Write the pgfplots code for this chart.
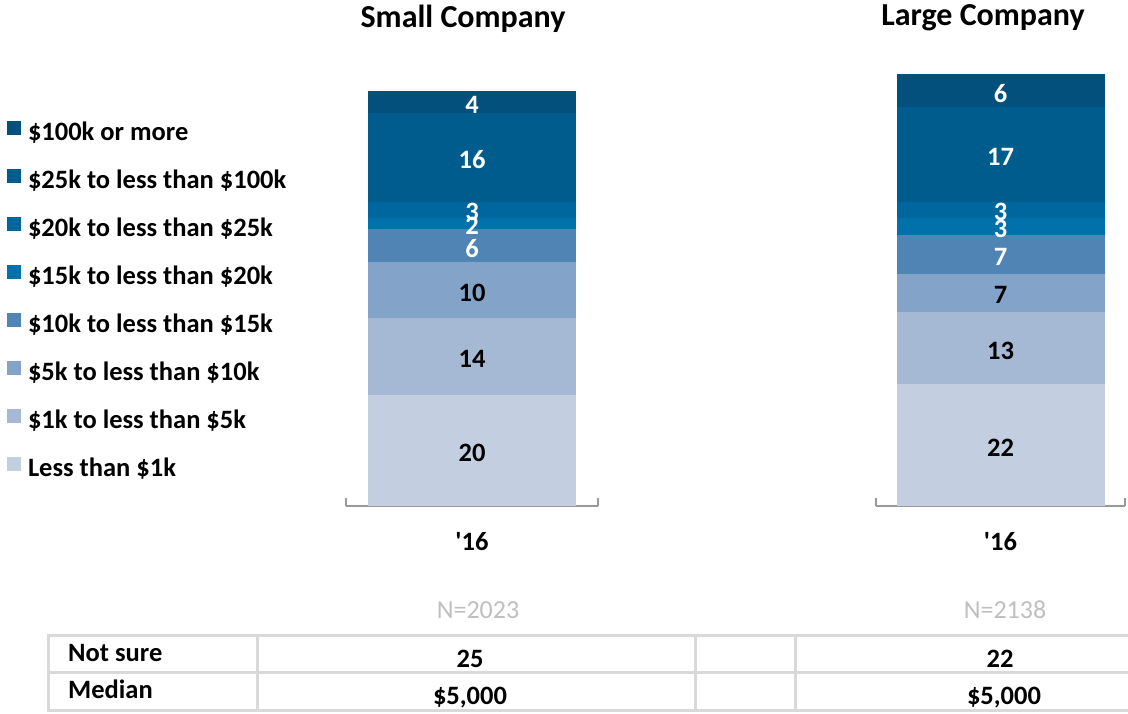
\documentclass[border=0pt]{standalone}
\usepackage{pgfplots}
\pgfplotsset{compat=1.18}
\usepackage{pgfplotstable}
\usepackage{fontspec}
\setmainfont{Carlito}

\definecolor{cA}{HTML}{C3CEE1}
\definecolor{cB}{HTML}{A5B9D4}
\definecolor{cC}{HTML}{84A3C8}
\definecolor{cD}{HTML}{4F84B5}
\definecolor{cE}{HTML}{0071AA}
\definecolor{cF}{HTML}{00669E}
\definecolor{cG}{HTML}{005C8C}
\definecolor{cH}{HTML}{03507C}
\definecolor{tabline}{HTML}{D9D9D9}
\definecolor{ntext}{HTML}{BFBFBF}

% share of respondents, bottom segment first
\pgfplotstableread{
x   a  b  c  d e f g  h
0.5 20 14 10 6 2 3 16 4
}\smallco
\pgfplotstableread{
x   a  b  c d e f g  h
0.5 22 13 7 7 3 3 17 6
}\largeco

\newcommand\lblfont{\bfseries\fontsize{26.5}{26.5}\selectfont}

\pgfplotsset{
  midlabel/.style={
    nodes near coords={\pgfmathprintnumber[assume math mode=true]{\pgfplotspointmeta}},
    every node near coord/.append style={
      anchor=center, yshift=-2.5pt, inner sep=0pt, font=\lblfont, text=#1},
  },
  seg/.style n args={2}{fill=#1, draw=none, midlabel=#2},
  company/.style={
    scale only axis, anchor=south west,
    height=442.8pt,
    xmin=0, xmax=1, ymin=0, ymax=80,
    ybar stacked, bar width=208pt,
    axis x line=bottom, axis y line=none,
    x axis line style={draw=gray!80, line width=1.3pt, -},
    xtick={0,1}, xticklabels={},
    tick align=inside, major tick length=8pt,
    x tick style={draw=gray!80, line width=1.3pt},
    extra x ticks={0.5}, extra x tick labels={{\textquotesingle16}},
    extra x tick style={major tick length=0pt,
      xticklabel style={font=\lblfont, inner sep=0pt, anchor=north, yshift=-26pt}},
    clip=false,
  },
}

\begin{document}
\begin{tikzpicture}
\useasboundingbox (0,0) rectangle (1128pt,714pt);

\begin{axis}[company, at={(346pt,208pt)}, width=252pt,
  reverse legend,
  legend style={at={(axis description cs:-1.3452,0.8695)}, anchor=north west,
    draw=none, fill=none, inner sep=0pt, outer sep=0pt,
    font=\lblfont, row sep=23pt, column sep=7pt,
    nodes={inner sep=0pt, text height=17pt, text depth=5pt}},
  legend cell align=left,
  legend image code/.code={\fill[#1] (0pt,0pt) rectangle (14pt,14pt);}]
\addplot[seg={cA}{black}] table[x=x, y=a, meta=a] {\smallco};
\addplot[seg={cB}{black}] table[x=x, y=b, meta=b] {\smallco};
\addplot[seg={cC}{black}] table[x=x, y=c, meta=c] {\smallco};
\addplot[seg={cD}{white}] table[x=x, y=d, meta=d] {\smallco};
\addplot[seg={cE}{white}] table[x=x, y=e, meta=e] {\smallco};
\addplot[seg={cF}{white}] table[x=x, y=f, meta=f] {\smallco};
\addplot[seg={cG}{white}] table[x=x, y=g, meta=g] {\smallco};
\addplot[seg={cH}{white}] table[x=x, y=h, meta=h] {\smallco};
\legend{Less than \$1k, \$1k to less than \$5k, \$5k to less than \$10k,
  \$10k to less than \$15k, \$15k to less than \$20k, \$20k to less than \$25k,
  \$25k to less than \$100k, \$100k or more}
\end{axis}

\begin{axis}[company, at={(876pt,208pt)}, width=249pt]
\addplot[seg={cA}{black}] table[x=x, y=a, meta=a] {\largeco};
\addplot[seg={cB}{black}] table[x=x, y=b, meta=b] {\largeco};
\addplot[seg={cC}{black}] table[x=x, y=c, meta=c] {\largeco};
\addplot[seg={cD}{white}] table[x=x, y=d, meta=d] {\largeco};
\addplot[seg={cE}{white}] table[x=x, y=e, meta=e] {\largeco};
\addplot[seg={cF}{white}] table[x=x, y=f, meta=f] {\largeco};
\addplot[seg={cG}{white}] table[x=x, y=g, meta=g] {\largeco};
\addplot[seg={cH}{white}] table[x=x, y=h, meta=h] {\largeco};
\end{axis}

% titles
\node[anchor=base, font=\bfseries\fontsize{32}{32}\selectfont] at (463pt,686.5pt) {Small Company};
\node[anchor=base, font=\bfseries\fontsize{32}{32}\selectfont] at (983pt,688.5pt) {Large Company};

% sample sizes
\node[text=ntext, font=\fontsize{26}{26}\selectfont] at (478pt,104pt) {N=2023};
\node[text=ntext, font=\fontsize{26}{26}\selectfont] at (1005pt,104pt) {N=2138};

% table
\begin{scope}[draw=tabline, line width=3pt]
\draw (48pt,78pt) -- (1128pt,78pt);
\draw (48pt,41pt) -- (1128pt,41pt);
\draw (48pt,3pt) -- (1128pt,3pt);
\foreach \xx in {48,257,695,795} \draw (\xx pt,79.5pt) -- (\xx pt,1.5pt);
\end{scope}
\begin{scope}[font=\lblfont]
\node[anchor=base west, inner sep=0pt] at (68pt,52pt) {Not sure};
\node[anchor=base west, inner sep=0pt] at (68pt,15pt) {Median};
\node[anchor=base, inner sep=0pt] at (470pt,46pt) {25};
\node[anchor=base, inner sep=0pt] at (1000pt,46pt) {22};
\node[anchor=base, inner sep=0pt] at (470pt,9pt) {\$5,000};
\node[anchor=base, inner sep=0pt] at (1004pt,9pt) {\$5,000};
\end{scope}
\end{tikzpicture}
\end{document}
